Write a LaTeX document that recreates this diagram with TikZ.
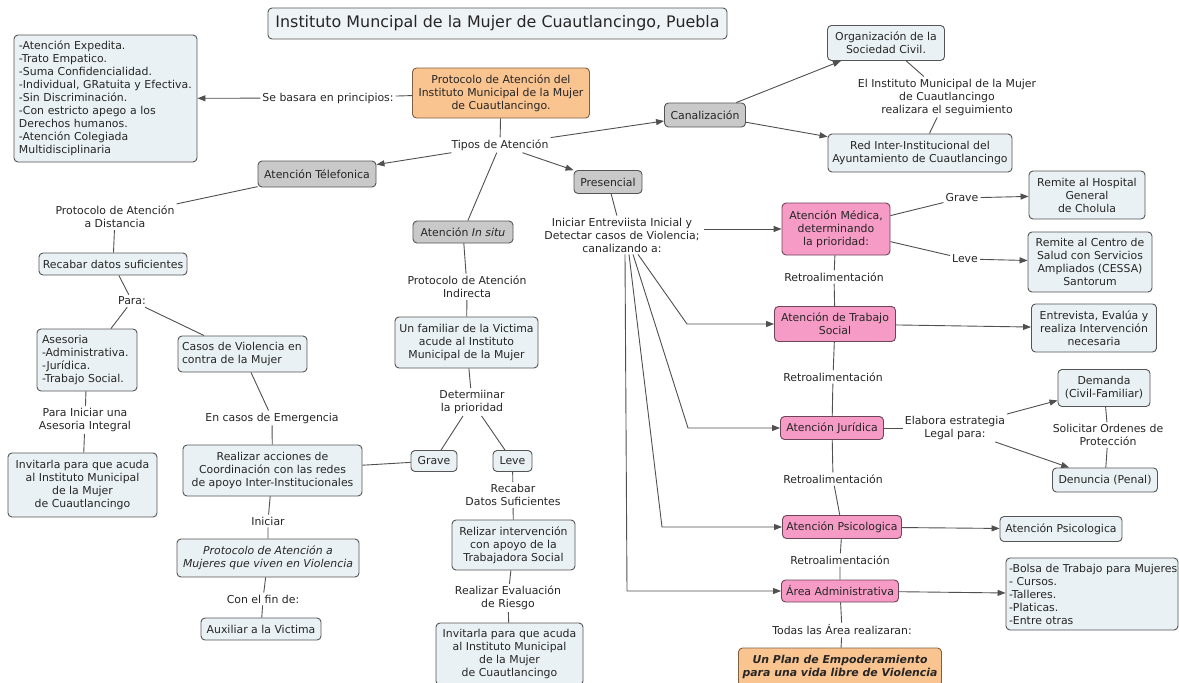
\documentclass[tikz,border=0pt]{standalone}
\usepackage{fontspec}
\setmainfont{DejaVu Sans}
\usetikzlibrary{arrows.meta,calc}
\definecolor{cbox}{HTML}{EAF1F4}
\definecolor{ctitle}{HTML}{EEF3F5}
\definecolor{cgray}{HTML}{C9C9C9}
\definecolor{cpink}{HTML}{F59BC6}
\definecolor{pbord}{HTML}{6E4458}
\definecolor{corange}{HTML}{F9C490}
\definecolor{obord}{HTML}{806040}
\definecolor{bord}{HTML}{555555}
\definecolor{lc}{HTML}{505050}
\definecolor{txt}{HTML}{262626}
\tikzset{
  box/.style={draw=bord, fill=cbox, rounded corners=4pt, line width=0.9pt, align=center, inner sep=2pt, text=txt},
  gbox/.style={box, fill=cgray},
  pbox/.style={box, fill=cpink, draw=pbord},
  obox/.style={box, fill=corange, draw=obord},
  lab/.style={align=center, inner sep=2pt, text=txt},
  sz/.style n args={2}{minimum width=#1pt, minimum height=#2pt},
  ln/.style={draw=lc, line width=0.9pt},
  arr/.style={ln, -{Triangle[length=8pt,width=6pt]}}
}
\begin{document}
\fontsize{10.9}{13}\selectfont
\begin{tikzpicture}[x=1pt,y=-1pt]
\fill[white] (0,0) rectangle (1179,683);
\useasboundingbox (0,0) rectangle (1179,683);

% ---- nodes ----
\node[box, sz={459}{31}, fill=ctitle, font=\fontsize{15.9}{18}\selectfont] (title) at (497.5,23.5) {Instituto Muncipal de la Mujer de Cuautlancingo, Puebla};
\node[box, align=left, text width=173pt, minimum height=127pt, inner xsep=5pt] (princ) at (105.5,98.5) {-Atención Expedita.\\-Trato Empatico.\\-Suma Confidencialidad.\\-Individual, GRatuita y Efectiva.\\-Sin Discriminación.\\-Con estricto apego a los\\Derechos humanos.\\-Atención Colegiada\\Multidisciplinaria};
\node[lab] (sebasa) at (328,98) {Se basara en principios:};
\node[obox, sz={177}{50}] (proto) at (501,93) {Protocolo de Atención del\\Instituto Municipal de la Mujer\\de Cuautlancingo.};
\node[lab] (tipos) at (500,145) {Tipos de Atención};
\node[gbox, sz={81}{24}] (canal) at (705,115) {Canalización};
\node[gbox, sz={68}{23}] (pres) at (608,182) {Presencial};
\node[gbox, sz={118}{26}] (tele) at (317,174) {Atención Télefonica};
\node[gbox, sz={100}{22}] (insitu) at (463,232) {Atención \textit{In situ}};
\node[box, sz={117}{35}] (org) at (886,43) {Organización de la\\Sociedad Civil.};
\node[lab] (elinst) at (947,97) {El Instituto Municipal de la Mujer\\de Cuautlancingo\\realizara el seguimiento};
\node[box, sz={184}{38}] (red) at (920,153) {Red Inter-Institucional del\\Ayuntamiento de Cuautlancingo};
\node[pbox, sz={108}{52}] (med) at (836,229) {Atención Médica,\\determinando\\la prioridad:};
\node[lab] (graveR) at (962,198) {Grave};
\node[lab] (leveR) at (965,259) {Leve};
\node[box, sz={116}{48}] (hosp) at (1087,195) {Remite al Hospital\\General\\de Cholula};
\node[box, sz={124}{60}] (cessa) at (1090,262) {Remite al Centro de\\Salud con Servicios\\Ampliados (CESSA)\\Santorum};
\node[lab] (retro1) at (834,277) {Retroalimentación};
\node[pbox, sz={121}{35}] (trab) at (835,324) {Atención de Trabajo\\Social};
\node[box, sz={125}{48}] (entre) at (1094,328) {Entrevista, Evalúa y\\realiza Intervención\\necesaria};
\node[lab] (retro2) at (833,377) {Retroalimentación};
\node[box, sz={92}{37}] (dem) at (1104,388) {Demanda\\(Civil-Familiar)};
\node[pbox, sz={103}{23}] (jur) at (832,428) {Atención Jurídica};
\node[lab] (elab) at (955,428) {Elabora estrategia\\Legal para:};
\node[lab] (sol) at (1108,435) {Solicitar Ordenes de\\Protección};
\node[box, sz={105}{24}] (denu) at (1105,480) {Denuncia (Penal)};
\node[lab] (retro3) at (833,479) {Retroalimentación};
\node[pbox, sz={119}{23}] (psi) at (842,527) {Atención Psicologica};
\node[box, sz={122}{25}] (psi2) at (1061,529) {Atención Psicologica};
\node[lab] (retro4) at (840,560) {Retroalimentación};
\node[pbox, sz={117}{22}] (adm) at (840,591) {Área Administrativa};
\node[box, align=left, text width=166pt, minimum height=72pt, inner xsep=3pt] (bolsa) at (1092,594) {\mbox{-Bolsa de Trabajo para Mujeres}\\- Cursos.\\-Talleres.\\-Platicas.\\-Entre otras};
\node[lab] (todas) at (842,630) {Todas las Área realizaran:};
\node[obox, sz={203}{38}, font=\bfseries\itshape] (plan) at (840,667) {Un Plan de Empoderamiento\\para una vida libre de Violencia};
\node[lab] (iniciar) at (622,235) {Iniciar Entreviista Inicial y\\Detectar casos de Violencia;\\canalizando a:};

\node[lab] (pdist) at (115,217) {Protocolo de Atención\\a Distancia};
\node[box, sz={148}{22}] (recab) at (113,264) {Recabar datos suficientes};
\node[lab] (para) at (132,301) {Para:};
\node[box, align=left, text width=90pt, minimum height=62pt, inner xsep=5pt] (ases) at (87,360) {Asesoria\\-Administrativa.\\-Jurídica.\\-Trabajo Social.};
\node[box, align=left, text width=121pt, minimum height=36pt, inner xsep=4pt] (casos) at (242.5,354) {\mbox{Casos de Violencia en}\\contra de la Mujer};
\node[lab] (parainic) at (85,420) {Para Iniciar una\\Asesoria Integral};
\node[box, sz={149}{64}] (invit1) at (82.5,485) {Invitarla para que acuda\\al Instituto Municipal\\de la Mujer\\de Cuautlancingo};
\node[lab] (emerg) at (272,418) {En casos de Emergencia};
\node[box, sz={179}{51}] (realiz) at (272.5,470.5) {Realizar acciones de\\Coordinación con las redes\\de apoyo Inter-Institucionales};
\node[box, sz={46}{21}] (graveL) at (434,461) {Grave};
\node[box, sz={39}{21}] (leveL) at (512.5,461) {Leve};
\node[lab] (deter) at (472,402) {Determiinar\\la prioridad};
\node[box, sz={143}{51}] (fam) at (466.5,342.5) {Un familiar de la Victima\\acude al Instituto\\Municipal de la Mujer};
\node[lab] (protind) at (467,287) {Protocolo de Atención\\Indirecta};
\node[lab] (iniL) at (268,521) {Iniciar};
\node[box, sz={182}{38}, font=\itshape] (protmuj) at (268,558) {Protocolo de Atención a\\Mujeres que viven en Violencia};
\node[lab] (confin) at (263,599) {Con el fin de:};
\node[box, sz={120}{22}] (aux) at (261,629) {Auxiliar a la Victima};
\node[lab] (recab2) at (513,495) {Recabar\\Datos Suficientes};
\node[box, sz={123}{50}] (reliz) at (513.5,545) {Relizar intervención\\con apoyo de la\\Trabajadora Social};
\node[lab] (evalua) at (508,598) {Realizar Evaluación\\de Riesgo};
\node[box, sz={147}{62}] (invit2) at (509.5,654) {Invitarla para que acuda\\al Instituto Municipal\\de la Mujer\\de Cuautlancingo};

\coordinate (k1) at (687,0);
\coordinate (k2) at (688,0);
\coordinate (k3) at (662,0);
\coordinate (k4) at (627,0);

% ---- connectors ----
\draw[arr] (sebasa) -- (princ);
\draw[ln] (proto) -- (sebasa);
\draw[ln] (proto) -- (tipos);
\draw[arr] (tipos) -- (tele);
\draw[ln] (tipos) -- (insitu);
\draw[arr] (tipos) -- (pres);
\draw[arr] (tipos) -- (canal);
\draw[arr] (canal) -- (org);
\draw[arr] (canal) -- (red);
\draw[ln] (org) -- (elinst);
\draw[ln] (elinst) -- (red);
\draw[ln] (pres) -- (iniciar);
\draw[arr] ([xshift=2pt]iniciar.east |- med) -- (med);
\draw[arr] ([xshift=16pt]iniciar.south) -- (trab.west -| k1) -- (trab.west);
\draw[arr] ([xshift=11pt]iniciar.south) -- (jur.west -| k2) -- (jur.west);
\draw[arr] ([xshift=7pt]iniciar.south) -- (psi.west -| k3) -- (psi.west);
\draw[arr] ([xshift=3pt]iniciar.south) -- (adm.west -| k4) -- (adm.west);
\draw[ln] (med) -- (graveR);
\draw[arr] (graveR) -- (hosp);
\draw[ln] (med) -- (leveR);
\draw[arr] (leveR) -- (cessa);
\draw[ln] (med) -- (retro1) -- (trab) -- (retro2) -- (jur) -- (retro3) -- (psi) -- (retro4) -- (adm) -- (todas) -- (plan);
\draw[arr] (trab) -- (entre);
\draw[ln] (jur) -- (elab);
\draw[arr] (elab) -- (dem);
\draw[arr] (elab) -- (denu);
\draw[ln] (dem) -- (sol) -- (denu);
\draw[arr] (psi) -- (psi2);
\draw[arr] (adm) -- (bolsa);

\draw[ln] (tele) -- (pdist) -- (recab) -- (para) -- (ases);
\draw[ln] (para) -- (casos);
\draw[ln] (ases) -- (parainic) -- (invit1);
\draw[ln] (casos) -- (emerg) -- (realiz) -- (iniL) -- (protmuj) -- (confin) -- (aux);
\draw[ln] (realiz) -- (graveL);
\draw[ln] (graveL) -- (deter) -- (leveL);
\draw[ln] (deter) -- (fam) -- (protind) -- (insitu);
\draw[ln] (leveL) -- (recab2) -- (reliz) -- (evalua) -- (invit2);
\end{tikzpicture}
\end{document}
